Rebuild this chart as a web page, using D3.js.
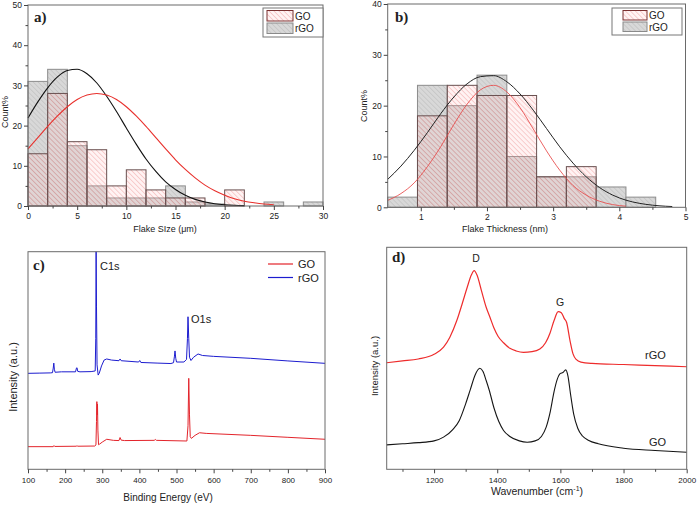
<!DOCTYPE html>
<html><head><meta charset="utf-8">
<script src="https://cdn.jsdelivr.net/npm/d3@7"></script>
<style>
body{margin:0;background:#fff}
svg text{font-family:"Liberation Sans",Arial,sans-serif;fill:#222}
</style>
</head><body>
<svg id="fig" width="697" height="505"></svg>
<script>
// ---------------- DATA ----------------
// (a) Flake size histogram, bins of width 2 µm starting at these values
const sizeBinStart = [0,2,4,6,8,10,12,14,16,18,20,22,24,26,28];
const sizeBinWidth = 2;
const sizeGO  = [13,28,16,14,5,9,4,2,2,0,4,0,0,0,0];
const sizeRGO = [31,34,15,5,2,2,2,5,1,0.5,0,0,1,0,1];
// Gaussian fit curves
const sizeFitXRGO = [0,1,2,3,4,5,6,7,8,9,10,11,12,13,14,15,16,17,18,19,20,21,22];
const sizeFitRGO  = [21.9,25.9,29.4,32.1,33.7,34.0,32.9,30.6,27.3,23.5,19.4,15.4,11.7,8.6,6.0,4.1,2.65,1.65,0.99,0.57,0.32,0.17,0.09];
const sizeFitXGO  = [0,1,2,3,4,5,6,7,8,9,10,11,12,13,14,15,16,17,18,19,20,21,22,23,24,25];
const sizeFitGO   = [14.2,17.0,19.8,22.4,24.7,26.5,27.6,28.0,27.6,26.5,24.7,22.4,19.8,17.0,14.2,11.5,9.1,7.0,5.2,3.8,2.7,1.8,1.2,0.8,0.5,0.31];
const sizeXTicks = [0,5,10,15,20,25,30];
const sizeYTicks = [0,10,20,30,40,50];

// (b) Flake thickness histogram, bin edges (nm)
const thickEdges = [0.5,0.95,1.4,1.85,2.3,2.75,3.2,3.65,4.1,4.55];
const thickGO  = [0,18,24,22,22,6,8,0,0];
const thickRGO = [2,24,20,26,10,6,6,4,2];
const thickFitX   = [0.5,0.7,0.9,1.1,1.3,1.5,1.7,1.9,2.1,2.3,2.5,2.7,2.9,3.1,3.3,3.5,3.7,3.9,4.1,4.3,4.5,4.7,4.8];
const thickFitRGO = [5.5,8.1,11.2,14.7,18.4,21.7,24.3,25.7,25.9,24.7,22.3,19.1,15.5,11.9,8.7,6.0,3.9,2.4,1.4,0.79,0.42,0.21,0.15];
const thickFitXGO = [0.5,0.7,0.9,1.1,1.3,1.5,1.7,1.9,2.1,2.3,2.5,2.7,2.9,3.1,3.3,3.5,3.7,3.9,4.1];
const thickFitGO  = [1.36,2.7,4.8,8.0,11.9,16.3,20.3,23.1,24.0,22.7,19.6,15.4,11.1,7.3,4.3,2.4,1.2,0.53,0.22];
const thickXTicks = [1,2,3,4,5];
const thickYTicks = [0,10,20,30,40];

// (c) XPS survey [binding energy eV, intensity a.u.]
const xpsRGO = [[100,44.1],[130,44.2],[160,44.3],[166,44.4],[168,46.5],[169.5,48.8],[171,46],[173,44.6],[190,44.8],[228,44.8],[230.5,46.5],[232,46.7],[234,45],[240,44.8],[270,44.9],[281,45.2],[282.5,60],[283.5,100],[284.5,75],[286,48],[289,43.3],[292,44.2],[298,47.5],[305,50.2],[312,50.7],[325,50.2],[345,49.9],[348,50.7],[351,49.9],[398,49.3],[401,50.0],[404,49.1],[450,48.8],[485,48.6],[492,49.0],[494.5,52],[496,54.4],[498,51],[500,49.3],[520,49.3],[527,50.5],[529.5,60],[531,70.1],[533,60],[535,51.5],[539,50.0],[546,51.5],[558,53.0],[570,52.3],[600,51.9],[700,51.0],[800,49.8],[900,48.7]];
const xpsGO = [[100,10.4],[168,10.4],[170,10.9],[172,10.5],[230,10.6],[232,10.9],[234,10.6],[280,10.7],[283,11.2],[284.5,22],[285.5,31.1],[286.3,25],[287.2,30],[288.3,18],[290,11.3],[293,11.6],[300,12.5],[312,13.8],[330,13.3],[345,13.2],[348,14.6],[351,13.4],[360,13.2],[440,13.3],[443,13.7],[446,13.3],[528,13.0],[531,20],[533,41.8],[535,25],[537,15],[540,14.2],[550,15.6],[562,16.8],[580,16.5],[700,15.6],[800,14.7],[900,13.8]];
const xpsXTicks = [100,200,300,400,500,600,700,800,900];

// (d) Raman [wavenumber cm-1, intensity a.u.]
const ramanRGO = [[1050,48.0],[1100,48.8],[1150,49.7],[1200,51.8],[1230,55],[1250,59.5],[1272,67],[1290,75],[1305,82],[1318,87.5],[1327,89.5],[1336,87.5],[1350,80.5],[1365,73],[1377,68.5],[1390,63.5],[1403,59.8],[1420,57],[1440,54.5],[1460,53.3],[1483,52.7],[1510,53],[1535,54.2],[1553,57],[1567,61.3],[1580,67],[1593,71.0],[1603,70.5],[1612,68],[1620,66],[1630,58.3],[1640,52],[1650,49.5],[1665,48.3],[1700,47.7],[1800,47.2],[1900,46.7],[2000,46.2]];
const ramanGO = [[1050,11.0],[1100,11.5],[1150,12.0],[1200,12.8],[1230,14.5],[1260,18],[1280,22],[1300,29.5],[1315,36],[1330,42.5],[1345,45.5],[1355,44],[1365,40],[1375,35.5],[1390,27.5],[1405,21.5],[1420,17.5],[1440,14.8],[1470,12.8],[1495,12.2],[1520,12.8],[1540,14.8],[1555,19],[1568,26],[1580,35],[1590,40.5],[1600,43.2],[1608,43.6],[1617,44.8],[1624,42],[1632,34],[1642,25],[1655,18.5],[1670,15],[1690,13],[1720,11.5],[1800,9.5],[1900,8.5],[2000,7.7]];
const ramanXTicks = [1200,1400,1600,1800,2000];

const seriesNames = ["GO","rGO"];

// ---------------- DRAW ----------------
const svg = d3.select("#fig");
const defs = svg.append("defs");
function hatch(id, bg, bgOp, line, lineOp, lw){
  const p = defs.append("pattern").attr("id",id).attr("patternUnits","userSpaceOnUse")
    .attr("width",3.5).attr("height",3.5).attr("patternTransform","rotate(-45)");
  p.append("rect").attr("width",3.5).attr("height",3.5).attr("fill",bg).attr("fill-opacity",bgOp);
  p.append("line").attr("x1",0).attr("y1",0).attr("x2",0).attr("y2",3.5)
    .attr("stroke",line).attr("stroke-width",lw).attr("stroke-opacity",lineOp);
}
hatch("hR","#d4d4d4",0.9,"#b0b0b0",0.9,0.9);
hatch("hG","#ffc4c4",0.2,"#e04848",0.55,0.8);

const P = {
  a:{x0:28,x1:323,y0:206,y1:5},
  b:{x0:387.7,x1:685.5,y0:207.3,y1:4},
  c:{x0:28,x1:325,y0:469.3,y1:251.7},
  d:{x0:386.7,x1:686.7,y0:469.3,y1:247.3}
};

function styleAxis(g, fs){
  g.select(".domain").remove();
  g.selectAll(".tick line").attr("stroke","#444");
  g.selectAll(".tick text").attr("font-size",fs).attr("fill","#222")
    .attr("font-family","'Liberation Sans',Arial,sans-serif");
}
function xAxis(p, x, ticks, minor, fs, fmt, pad){
  const g = svg.append("g").attr("transform",`translate(0,${p.y0})`)
    .call(d3.axisBottom(x).tickValues(ticks).tickSize(4).tickPadding(pad).tickFormat(fmt));
  styleAxis(g, fs);
  const m = svg.append("g").attr("transform",`translate(0,${p.y0})`)
    .call(d3.axisBottom(x).tickValues(minor).tickSize(2.5).tickFormat(""));
  styleAxis(m, fs);
}
function yAxis(p, y, ticks, minor, fs){
  const g = svg.append("g").attr("transform",`translate(${p.x0},0)`)
    .call(d3.axisLeft(y).tickValues(ticks).tickSize(4).tickPadding(2));
  styleAxis(g, fs);
  const m = svg.append("g").attr("transform",`translate(${p.x0},0)`)
    .call(d3.axisLeft(y).tickValues(minor).tickSize(2.5).tickFormat(""));
  styleAxis(m, fs);
}
function frame(p){
  svg.append("rect").attr("x",p.x0).attr("y",p.y1).attr("width",p.x1-p.x0).attr("height",p.y0-p.y1)
    .attr("fill","none").attr("stroke","#6a6a6a").attr("stroke-width",1);
}
function panelLabel(x,y,t){
  svg.append("text").attr("x",x).attr("y",y).text(t)
    .attr("font-weight","bold").attr("font-size",15)
    .style("font-family","'Liberation Serif','Times New Roman',serif");
}
function text(x,y,t,fs,anchor,rot){
  const e = svg.append("text").attr("x",x).attr("y",y).text(t).attr("font-size",fs)
    .attr("text-anchor",anchor||"start");
  if(rot) e.attr("transform",`rotate(-90,${x},${y})`);
  return e;
}
function bars(x, y, lefts, rights, vals, fill, stroke){
  svg.append("g").selectAll("rect").data(vals.map((v,i)=>({l:lefts[i],r:rights[i],v})).filter(d=>d.v>0))
    .join("rect")
    .attr("x",d=>x(d.l)).attr("width",d=>x(d.r)-x(d.l))
    .attr("y",d=>y(d.v)).attr("height",d=>y(0)-y(d.v))
    .attr("fill",fill).attr("stroke",stroke).attr("stroke-width",1);
}
function curve(x,y,xs,vs,color,w,op){
  svg.append("path").datum(xs.map((v,i)=>[v,vs[i]]))
    .attr("d",d3.line().x(d=>x(d[0])).y(d=>y(d[1])).curve(d3.curveMonotoneX))
    .attr("fill","none").attr("stroke",color).attr("stroke-width",w).attr("stroke-opacity",op||1);
}
function histLegend(bx,by,bw,bh,sx,sw,tx){
  svg.append("rect").attr("x",bx).attr("y",by).attr("width",bw).attr("height",bh)
    .attr("fill","#fff").attr("stroke","#777");
  const h = (bh-6)/2;
  svg.append("rect").attr("x",sx).attr("y",by+2.5).attr("width",sw).attr("height",h-1)
    .attr("fill","url(#hG)").attr("stroke","#7a3030");
  svg.append("rect").attr("x",sx).attr("y",by+3.5+h).attr("width",sw).attr("height",h-1)
    .attr("fill","url(#hR)").attr("stroke","#8a8a8a");
  text(tx,by+2.5+h/2+3.5,seriesNames[0],10);
  text(tx,by+3.5+h*1.5+3.5,seriesNames[1],10);
}

// ---- Panel a ----
{
  const p=P.a;
  const x=d3.scaleLinear().domain([0,30]).range([p.x0,p.x1]);
  const y=d3.scaleLinear().domain([0,50]).range([p.y0,p.y1]);
  const L=sizeBinStart, R=sizeBinStart.map(v=>v+sizeBinWidth);
  bars(x,y,L,R,sizeRGO,"url(#hR)","#8c8c8c");
  bars(x,y,L,R,sizeGO,"url(#hG)","#6a5050");
  curve(x,y,sizeFitXRGO,sizeFitRGO,"#111",1.1);
  curve(x,y,sizeFitXGO,sizeFitGO,"#e8302c",1.1);
  frame(p);
  xAxis(p,x,sizeXTicks,[2.5,7.5,12.5,17.5,22.5,27.5],8.5,d3.format("d"),3);
  yAxis(p,y,sizeYTicks,[5,15,25,35,45],8.5);
  text(165,232,"Flake SIze (μm)",9,"middle");
  text(8,112,"Count%",9,"middle",true);
  panelLabel(34,22,"a)");
  histLegend(263,8,60,29,267,26,295);
}
// ---- Panel b ----
{
  const p=P.b;
  const x=d3.scaleLinear().domain([0.5,5]).range([p.x0,p.x1]);
  const y=d3.scaleLinear().domain([0,40]).range([p.y0,p.y1]);
  const L=thickEdges.slice(0,-1), R=thickEdges.slice(1);
  bars(x,y,L,R,thickRGO,"url(#hR)","#8c8c8c");
  bars(x,y,L,R,thickGO,"url(#hG)","#6a5050");
  curve(x,y,thickFitX,thickFitRGO,"#222",1);
  curve(x,y,thickFitXGO,thickFitGO,"#e84848",1,0.85);
  frame(p);
  xAxis(p,x,thickXTicks,[1.5,2.5,3.5,4.5],8.5,d3.format("d"),3);
  yAxis(p,y,thickYTicks,[5,15,25,35],8.5);
  text(505,232,"Flake Thickness (nm)",9,"middle");
  text(366.5,106,"Count%",9,"middle",true);
  panelLabel(395,22,"b)");
  histLegend(612,8,70,27,623,24,649);
}
// ---- Panel c ----
{
  const p=P.c;
  const x=d3.scaleLinear().domain([100,900]).range([p.x0,p.x1]);
  const y=d3.scaleLinear().domain([0,100]).range([p.y0,p.y1]);
  const line=d3.line().x(d=>x(d[0])).y(d=>y(d[1]));
  svg.append("path").datum(xpsRGO).attr("d",line).attr("fill","none").attr("stroke","#1c1ccf").attr("stroke-width",1);
  svg.append("path").datum(xpsGO).attr("d",line).attr("fill","none").attr("stroke","#e3242b").attr("stroke-width",1);
  frame(p);
  xAxis(p,x,xpsXTicks,[150,250,350,450,550,650,750,850],8,d3.format("d"),4);
  text(168,501,"Binding Energy (eV)",10,"middle");
  text(16.5,377,"Intensity (a.u.)",11,"middle",true);
  panelLabel(33,270,"c)");
  text(100,270,"C1s",11);
  text(191,323,"O1s",11);
  svg.append("line").attr("x1",268).attr("x2",293).attr("y1",264).attr("y2",264).attr("stroke","#e3242b").attr("stroke-width",1.2);
  svg.append("line").attr("x1",268).attr("x2",293).attr("y1",277.5).attr("y2",277.5).attr("stroke","#1c1ccf").attr("stroke-width",1.2);
  text(298,268,seriesNames[0],11);
  text(298,281.5,seriesNames[1],11);
}
// ---- Panel d ----
{
  const p=P.d;
  const x=d3.scaleLinear().domain([1050,2000]).range([p.x0,p.x1]);
  const y=d3.scaleLinear().domain([0,100]).range([p.y0,p.y1]);
  const line=d3.line().x(d=>x(d[0])).y(d=>y(d[1])).curve(d3.curveMonotoneX);
  svg.append("path").datum(ramanRGO).attr("d",line).attr("fill","none").attr("stroke","#ee2c2c").attr("stroke-width",1.2);
  svg.append("path").datum(ramanGO).attr("d",line).attr("fill","none").attr("stroke","#151515").attr("stroke-width",1.1);
  frame(p);
  xAxis(p,x,ramanXTicks,[1100,1300,1500,1700,1900],8,d3.format("d"),4);
  const xl = text(537,495,"Wavenumber (cm",10.5,"middle");
  xl.append("tspan").attr("dy",-4).attr("font-size",7).text("-1");
  xl.append("tspan").attr("dy",4).text(")");
  text(377.5,366,"Intensity (a.u.)",9.5,"middle",true);
  panelLabel(392,262,"d)");
  text(476,262,"D",10.5,"middle");
  text(560,306,"G",10.5,"middle");
  text(645,359,"rGO",11);
  text(649,446,"GO",11);
}
</script>
</body></html>
